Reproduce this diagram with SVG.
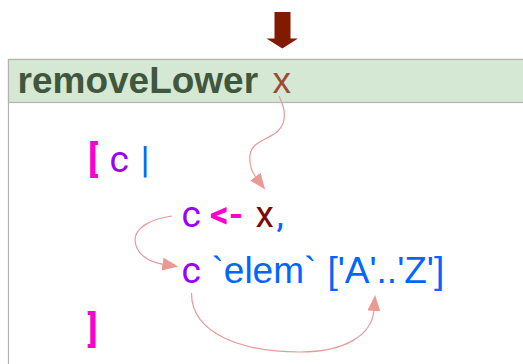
<svg xmlns="http://www.w3.org/2000/svg" width="523" height="364" viewBox="0 0 523 364">
<style>
.hdr{font-family:"Liberation Sans",Arial,sans-serif;font-size:37px}
.ro{font-family:Roboto,sans-serif;font-size:37px}
.ls{font-family:"Liberation Sans",Arial,sans-serif;font-size:37px}
.mag{fill:#ff00cc;font-weight:bold}
.pur{fill:#9900ff}
.blu{fill:#0066ff}
.red{fill:#7a0a00}
.conn{fill:none;stroke:#ea9999;stroke-width:1.2}
</style>
<defs>
<marker id="ah" markerUnits="userSpaceOnUse" markerWidth="17" markerHeight="13" viewBox="0 0 17 13" refX="1" refY="6.5" orient="auto">
<path d="M0,0 L16,6.5 L0,13 z" fill="#ea9a94"/>
</marker>
</defs>
<g id="entry-arrow">
<polygon points="274.5,12 290.5,12 290.5,38.5 298,38.5 282.3,48.5 266.5,38.5 274.5,38.5" fill="#801a00"/>
</g>
<g id="frame">
<rect x="8.5" y="59.5" width="620" height="400" fill="#ffffff" stroke="#b3b3b3" stroke-width="1.2"/>
<rect x="8.5" y="59.5" width="620" height="43" fill="#d5e8d4" stroke="#b3b3b3" stroke-width="1.2"/>
<text class="hdr" x="17.5" y="93" fill="#3f573c" font-weight="bold">removeLower</text>
<text class="hdr" x="272.5" y="93" fill="#9c4a35">x</text>
</g>
<g id="line1">
<text class="ro mag" x="88" y="171.5">[</text>
<text class="ro pur" x="109.5" y="171.5">c</text>
<text class="ro blu" x="140.5" y="171.5">|</text>
</g>
<g id="line2">
<text class="ro pur" x="181.5" y="226.5">c</text>
<text class="ro mag" x="210" y="226.5">&lt;-</text>
<text class="ro red" x="255.5" y="226.5">x</text>
<text class="ro blu" x="276.5" y="226.5">,</text>
</g>
<g id="line3">
<text class="ro pur" x="181.5" y="283">c</text>
<text class="ls blu" x="211.5" y="283">`elem`</text>
<text class="ls blu" x="327.5" y="283">['A'..'Z']</text>
</g>
<g id="line4">
<text class="ro mag" x="87.5" y="342">]</text>
</g>
<g id="connectors">
<path class="conn" d="M279,96 C286,110 287,122 278,131 C268,140 252,141 250,155 C249,165 251,171 256,177.5" marker-end="url(#ah)"/>
<path class="conn" d="M172,216 C150,219 135,228 135,240 C136,254 148,262 163.5,264.3" marker-end="url(#ah)"/>
<path class="conn" d="M191.5,293 C191,335 245,352 300,352 C345,352 372,335 374,310" marker-end="url(#ah)"/>
</g>
</svg>
